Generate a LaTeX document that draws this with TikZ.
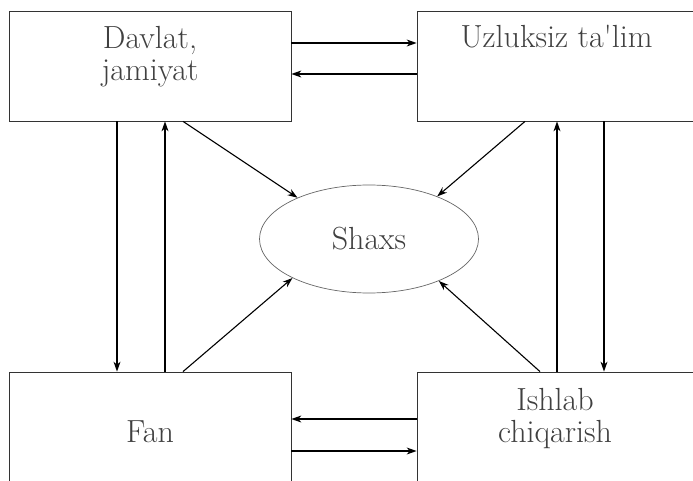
\documentclass[tikz,border=0pt]{standalone}
\usepackage{tikz}
\usetikzlibrary{shapes.geometric,positioning,arrows.meta}

\tikzset{
  blok/.style={draw=black!80,line width=0.8pt,minimum width=282pt,
    minimum height=110pt,inner sep=0pt},
  matn/.style={font=\fontsize{32}{32}\selectfont,text=black!75,
    align=center,inner sep=0pt},
  yoy/.style={line width=1.1pt,-{Stealth[length=10pt,width=7pt]}},
}

\begin{document}
\begin{tikzpicture}[x=1pt,y=-1pt]
  \useasboundingbox (0,0) rectangle (693,481);
  \node[blok] (davlat) at (150,66) {};
  \node[blok] (talim) at (558,66) {};
  \node[blok] (fan) at (150,427) {};
  \node[blok] (ishlab) at (558,427) {};
  \node[draw=black!60,ellipse,line width=0.7pt,minimum width=219pt,
    minimum height=108pt,inner sep=0pt] (shaxs) at (369,239) {};
  %
  \node[matn] (tdavlat) at ([yshift=9.5pt]davlat.center) {Davlat,\\jamiyat};
  \node[matn] (ttalim) at ([yshift=29pt,xshift=-1.5pt]talim.center) {Uzluksiz ta\textquotesingle lim};
  \node[matn] (tfan) at ([yshift=-5pt]fan.center) {Fan};
  \node[matn] (tishlab) at ([yshift=8pt,xshift=-3pt]ishlab.center) {Ishlab\\chiqarish};
  \node[matn] (tshaxs) at (shaxs.center) {Shaxs};
  % gorizontal
  \draw[yoy] ([yshift=23pt]davlat.east) -- ([yshift=23pt]talim.west);
  \draw[yoy] ([yshift=-8pt]talim.west) -- ([yshift=-8pt]davlat.east);
  \draw[yoy] ([yshift=8pt]ishlab.west) -- ([yshift=8pt]fan.east);
  \draw[yoy] ([yshift=-24pt]fan.east) -- ([yshift=-24pt]ishlab.west);
  % vertikal
  \draw[yoy] ([xshift=-33pt]davlat.south) -- ([xshift=-33pt]fan.north);
  \draw[yoy] ([xshift=15pt]fan.north) -- ([xshift=15pt]davlat.south);
  \draw[yoy] ([xshift=-1pt]ishlab.north) -- ([xshift=-1pt]talim.south);
  \draw[yoy] ([xshift=46pt]talim.south) -- ([xshift=46pt]ishlab.north);
  % shaxsga
  \draw[yoy] ([xshift=33pt]davlat.south) -- (shaxs.150);
  \draw[yoy] ([xshift=-33pt]talim.south) -- (shaxs.32);
  \draw[yoy] ([xshift=33pt]fan.north) -- (shaxs.207);
  \draw[yoy] ([xshift=-18pt]ishlab.north) -- (shaxs.329);
\end{tikzpicture}
\end{document}
